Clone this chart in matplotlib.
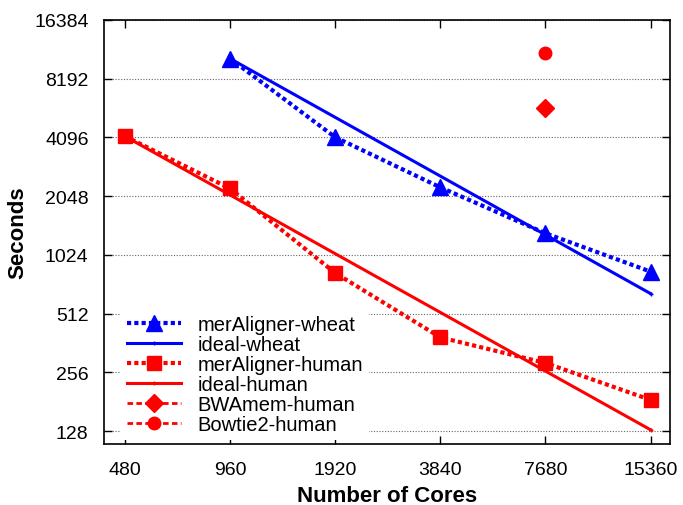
import matplotlib
matplotlib.use("Agg")
import matplotlib.pyplot as plt
from matplotlib.ticker import FixedLocator, FixedFormatter, NullLocator

cores = [480, 960, 1920, 3840, 7680, 15360]
xtick_labels = ["480", "960", "1920", "3840", "7680", "15360"]
ytick_values = [128, 256, 512, 1024, 2048, 4096, 8192, 16384]

wheat_cores = [960, 1920, 3840, 7680, 15360]
mer_wheat = [10370, 4100, 2270, 1320, 840]
ideal_wheat_cores = [960, 15360]
ideal_wheat = [10370, 648]

human_cores = [480, 960, 1920, 3840, 7680, 15360]
mer_human = [4150, 2240, 827, 387, 286, 185]
ideal_human_cores = [480, 15360]
ideal_human = [4150, 130]

bwa_cores = [7680]
bwa_human = [5800]
bowtie_cores = [7680]
bowtie_human = [11120]

plt.rcParams['font.family'] = ['Liberation Sans', 'DejaVu Sans']

fig = plt.figure(figsize=(6.83, 5.06), dpi=100)
ax = fig.add_axes([0.152, 0.1205, 0.829, 0.8385])

blue = "#0000ff"
red = "#ff0000"
dots = (0, (1, 0.75))

ax.plot(wheat_cores, mer_wheat, color=blue, linestyle=dots, lw=3.0, marker='^',
        markersize=11, label='merAligner-wheat', zorder=4)
ax.plot(ideal_wheat_cores, ideal_wheat, color=blue, linestyle='-', lw=2.2,
        marker='+', markersize=3, label='ideal-wheat', zorder=3)
ax.plot(human_cores, mer_human, color=red, linestyle=dots, lw=3.0, marker='s',
        markersize=9.5, label='merAligner-human', zorder=4)
ax.plot(ideal_human_cores, ideal_human, color=red, linestyle='-', lw=2.2,
        marker='+', markersize=3, label='ideal-human', zorder=3)
ax.plot(bwa_cores, bwa_human, color=red, linestyle=(0, (2, 1.2)), lw=2,
        marker='D', markersize=9, label='BWAmem-human', zorder=4)
ax.plot(bowtie_cores, bowtie_human, color=red, linestyle=(0, (2, 1.2)), lw=2,
        marker='o', markersize=9, label='Bowtie2-human', zorder=4)

ax.set_xscale('log', base=2)
ax.set_yscale('log', base=2)
ax.set_xlim(418, 17450)
ax.set_ylim(110, 16384)

ax.xaxis.set_major_locator(FixedLocator(cores))
ax.xaxis.set_major_formatter(FixedFormatter(xtick_labels))
ax.xaxis.set_minor_locator(NullLocator())
ax.yaxis.set_major_locator(FixedLocator(ytick_values))
ax.yaxis.set_major_formatter(FixedFormatter([str(v) for v in ytick_values]))
ax.yaxis.set_minor_locator(NullLocator())

ax.tick_params(axis='both', which='major', direction='in', length=6, width=1,
               labelsize=14, top=True, right=True)
ax.tick_params(axis='y', pad=11)
ax.tick_params(axis='x', pad=12)
for s in ax.spines.values():
    s.set_linewidth(1.2)

ax.grid(True, axis='y', linestyle=(0, (1, 1.5)), color='#666666', lw=0.8, zorder=0)
ax.set_axisbelow(True)

ax.set_xlabel('Number of Cores', fontsize=16, fontweight='bold', labelpad=5)
ax.set_ylabel('Seconds', fontsize=16, fontweight='bold', labelpad=4)

leg = ax.legend(loc='lower left', bbox_to_anchor=(0.023, 0.0), fontsize=14.5,
                frameon=True, framealpha=1, edgecolor='none', fancybox=False,
                handlelength=2.7, handletextpad=0.8, labelspacing=0.05,
                borderpad=0.3, borderaxespad=0.2)

fig.savefig('out.png', dpi=100)
